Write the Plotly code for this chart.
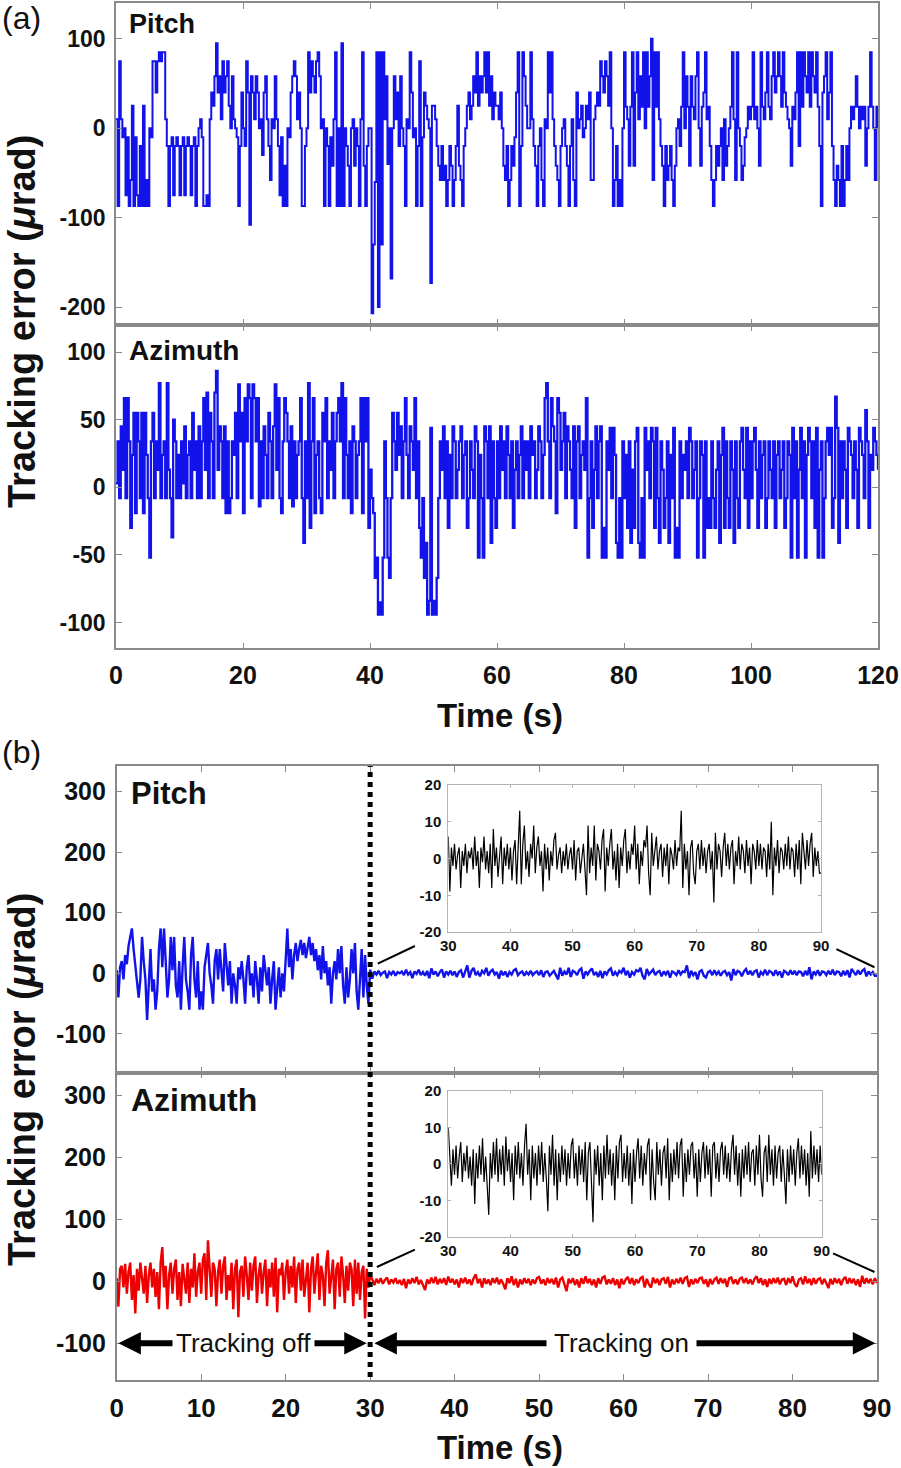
import numpy as np
import plotly.graph_objects as go

W, H = 901, 1468
FONT = "Arial, Liberation Sans, Helvetica, sans-serif"

# ---------------- data ----------------
a_step = 0.25  # seconds between samples in panel (a)
a_pitch = [
    10, -87, 75, 10, -10, 0, -75, -10, -87, -58, 25, -87, -10, -75, -87, -20, -87, 25, -87, -58,
    -87, 0, -10, 75, 75, 40, 75, 85, 75, 85, 85, 10, -20, -87, -20, -10, -75, -20, -10, -20,
    -75, -20, -10, -75, -20, -10, -20, -75, -20, -10, -87, -20, 0, 10, -10, -87, -87, -75, -87, 10,
    40, 25, 58, 95, 40, 58, 10, 75, 40, 58, 75, 25, 0, 58, 10, 0, -10, -87, -20, 40,
    0, -20, 75, 40, -108, 58, 40, 10, 58, 40, 0, 10, -30, 40, 58, 10, -20, -58, 10, 0,
    58, 10, -20, -75, -10, -87, -42, -87, 0, -10, 40, 58, 75, 58, 10, 40, 0, -87, -87, -20,
    0, 85, 40, 75, 58, 40, 75, 85, 58, 0, 10, -87, 0, -20, -87, -10, -42, 10, 85, -87,
    0, -87, 95, -87, 0, -20, -42, -87, 0, 10, -42, 0, -20, -87, 10, 85, -42, -87, -20, 0,
    0, -207, -130, -60, 85, -200, 85, -130, 85, 10, 58, -40, 0, -168, 0, 58, 10, 40, -20, 58,
    0, -20, -87, 10, 0, 85, 40, -10, 0, -87, -20, 75, -87, -10, 40, 25, 10, 0, -173, 25,
    25, 10, -20, -42, -58, -20, -58, -42, -87, -58, -20, -42, -87, -58, -20, 25, -42, -58, -87, -20,
    0, 25, 40, 10, 25, 58, 40, 85, 25, 58, 40, 58, 85, 40, 85, 25, 58, 10, 40, 25,
    25, 10, 40, 0, -42, -58, -20, -87, -58, -20, -42, -10, 40, 85, -87, -20, 85, 58, 25, 0,
    0, 85, 10, -20, -42, -87, -20, 0, -58, -87, 10, 0, 85, 40, 85, 10, -20, -42, -58, -87,
    -20, 0, 10, -20, -42, -87, -20, 10, -58, -87, 40, 0, 10, 25, -10, 0, 25, 10, 40, -58,
    -58, 10, 25, 40, 25, 75, 58, 40, 75, 58, 25, 85, 0, -87, -58, -20, -87, -58, -87, 0,
    85, 24, 10, -42, 24, 85, -42, 40, 85, 10, 58, 24, 85, 0, 85, 24, 58, 100, -58, 85,
    24, 85, 10, -20, -42, -87, -20, -58, -42, -20, -58, -87, -42, 0, 10, -20, 24, 85, 0, 58,
    24, -42, 58, 24, 10, 58, 85, 0, -42, 24, 40, 85, 10, 24, -20, -58, -87, -58, -20, -42,
    -20, 0, -58, 10, -42, -20, 0, 24, 85, 10, -58, 85, 0, -20, -58, -42, -10, 0, 24, 10,
    24, 85, 10, 24, 0, -42, 85, 24, 10, 40, 85, 24, 10, 58, 85, 40, 58, 85, 58, 24,
    85, 40, 24, 10, 0, -42, 24, 10, 40, 85, -20, 85, 24, 85, 58, 40, 85, 24, 85, 58,
    40, 85, 24, -20, -87, 40, 58, 85, 10, 40, 85, -20, -58, -87, -42, -58, -87, -20, -87, -58,
    -20, -58, 0, 24, 10, 24, 58, 24, 0, 24, 10, 24, -42, 0, 24, 85, 24, 0, -58, 24,
    0,
]
a_azimuth = [
    3, 34, -8, 45, 13, 66, -8, 66, 34, -30, 24, 55, -19, 55, 34, -8, 55, -19, 55, 24,
    -8, -52, 34, 55, -8, 34, 13, 77, -8, 24, 34, -8, 77, 13, -8, -37, 50, 34, -8, 24,
    -8, 34, 3, 45, -8, 24, 34, -8, 55, 13, 34, -8, 45, -8, 34, 66, 13, 70, -8, 55,
    34, -8, 70, 86, 13, 45, 34, -8, 45, -19, 34, -19, -8, 34, 24, 55, -8, 76, 34, 55,
    -19, 66, 34, 76, 66, -8, 76, 66, 34, 66, -14, 34, -8, 45, 24, -8, 55, 34, -8, 45,
    76, 13, 66, -8, -19, 34, 66, 55, 34, -8, 45, -14, 34, -8, 24, 34, 66, -8, -41, 34,
    -8, 77, -30, 34, 66, -19, 24, 34, -8, -19, 55, 34, 66, -8, 34, 13, 55, -8, 34, 55,
    66, 34, 77, -8, 66, 24, -8, 34, -19, 45, 34, -8, 24, 34, 66, -19, 66, 34, 66, -30,
    13, -8, -19, -67, -52, -94, -85, -94, -52, 34, -8, -52, -67, -8, 55, 34, 13, 55, 24, 45,
    -8, 34, 66, 24, -8, 45, 34, 13, 66, -8, 34, -30, -52, -8, -67, -41, -94, -84, 44, -94,
    -84, -94, -67, -8, 34, 13, 45, -8, 34, -30, 24, -8, 45, 34, -8, 13, 34, 45, -8, 24,
    34, -30, -8, 34, 13, -8, 45, 34, -52, 24, -8, -52, 45, 34, -8, 45, -41, 34, -8, -30,
    34, -8, 45, 13, 34, -8, 45, 24, -8, 34, -30, 13, 34, -8, 24, 45, -8, 34, 13, 34,
    -8, 45, 24, 34, -8, 13, 45, 34, -8, 24, 66, 77, 34, -8, 66, 45, 34, -19, 66, 55,
    13, 34, 55, -8, 45, 34, 13, -8, 45, -30, 34, 45, -8, 24, 34, 13, 66, -52, -8, 34,
    -30, 13, 45, -8, 34, 45, -52, -30, -52, 34, 13, 44, -8, 44, 24, -41, -52, -8, -52, 34,
    -8, 24, -30, 34, -41, 13, -30, 34, 44, -41, -52, -8, -52, 44, 13, 34, -8, 44, 34, -30,
    44, -8, -41, 34, 13, -30, -8, 34, -41, 24, -8, 44, -52, -30, -52, 34, -8, 24, 13, 34,
    -8, 44, 34, -8, 13, 34, -52, -8, 34, 24, -52, 34, -30, -8, -30, 34, -8, -30, 13, 34,
    -41, 24, 44, -30, 34, -8, -30, 34, 13, -41, 34, -8, -30, 34, 44, 13, -8, 44, -30, 34,
    -8, 34, 44, 13, -30, 34, -8, 24, 34, -30, -8, 34, 13, -8, 34, -30, 24, 34, -8, 13,
    34, -30, -8, 34, 24, -52, 44, -8, 34, -52, 13, 44, -8, 34, -52, 24, 44, 34, -8, 34,
    -30, 44, -52, 13, 34, -52, -8, 34, 44, 24, 44, -30, -8, 67, 44, -41, 34, -8, 34, 13,
    -30, 44, 34, 24, -8, 34, 13, -30, 44, 34, 24, -8, 57, 34, -30, 24, 13, 44, 34, 24,
    13,
]

b_step_off = 0.2   # tracking off, 0-30 s
b_on_start = 30.0
b_step_on = 0.25   # tracking on, 30-90 s
b_pitch_off = [
    5, -40, 10, 20, -10, 30, 15, 45, 60, 74, 40, 10, -20, -40, -10, 60, 20, -10, -77, -20, 40, -30, -10, -60, -30,
    40, 74, 10, 74, 20, -40, -10, 60, 5, 60, -20, -40, 20, -60, 10, 60, -10, -30, -60, 30, 60, -10, -40, 20, -60,
    -30, -60, 10, 30, 50, 0, -20, -50, 20, 40, -10, 40, 10, -30, 50, 5, -20, 20, -50, 0, -20, -50, 10, -10, 20,
    -10, -50, 10, 30, -20, 0, -40, 20, -10, -50, 10, -30, 30, 0, -20, 10, -50, -10, 20, -60, -20, 10, -40, 0, -30,
    20, 74, 10, 40, -10, 30, 50, 20, 40, 55, 30, 50, 25, 45, 60, 30, 50, 20, 40, 5, 30, -10, 45, 0, 20,
    -20, 10, -50, 0, 20, -10, 40, 0, 45, -20, -50, 10, -40, -10, 40, 0, 50, -30, -60, -10, 40, -40, 30, -20, -50,
]
b_azimuth_off = [
    5, -41, 20, 25, -10, 28, -20, 15, 30, -30, 10, -52, 20, -15, 30, 0, -20, 25, -35, 10, 30, -10, 20, -25, 15,
    -45, 30, 55, -10, 25, -45, 10, 30, -20, 20, 35, -30, 15, -40, 28, 5, -20, 30, -35, 20, -10, 45, -25, 15, 30,
    -20, 35, 45, -30, 66, 10, -25, 30, 20, -40, 15, 35, -20, 25, 40, -30, 10, -15, 30, -45, 20, 35, -58, 15, 25,
    -25, 40, 10, -30, 30, -15, 25, 40, -35, 10, 30, -20, 15, 35, -40, 20, -10, 30, -25, 38, -50, 20, 10, 30, -30,
    15, 35, -20, 25, -10, 40, -35, 20, 30, -15, 35, -25, 10, 30, -50, 20, 40, -20, 15, 45, -30, 25, 10, -40, 30,
    50, -20, 15, 35, -45, 20, 30, -25, 40, 10, -35, 25, -15, 30, 20, -40, 35, -20, 30, -30, 15, 25, -60, 20, -10,
]
b_pitch_on = [
    6, -9, 3, -2, 4, -3, 1, 3, -8, 2, -2, 4, -4, 2, 0, 3, -3, 6, -2, 2,
    -8, 3, -1, 6, -3, 2, -4, 4, -8, 8, -2, 3, -5, 2, 6, -7, 3, -2, 4, -3,
    3, -6, 2, 5, -7, 3, 13, -7, 4, 9, -3, 2, -5, 4, 0, 9, -4, 3, 6, -2,
    2, -9, 4, -3, 3, -6, 2, -2, 5, 7, -3, 1, 3, -4, 2, -2, 4, -3, 1, 3,
    -3, 5, -6, 2, 3, -4, 1, 4, -3, -10, 9, -4, 3, -2, 9, -6, 4, 2, -3, 5,
    8, -9, 3, -2, 4, 8, -3, 2, -6, 4, -8, 3, -2, 5, 8, -4, 2, -3, 4, 1,
    9, -3, 4, -7, 2, -2, 5, 3, 9, -4, -10, 7, -2, 3, 6, -3, 2, 4, -5, 3,
    -2, 4, -7, 3, 1, -3, 5, -2, 3, 2, 13, -8, 4, -3, 2, -10, 3, 5, -4, -7,
    2, 4, -3, 5, -2, 3, -4, 2, 4, -3, 2, -12, 7, -3, 4, 2, -5, 3, 7, -2,
    4, -3, 3, 5, -7, 2, -2, 6, -3, 4, 2, -4, 5, -2, 3, -7, 4, 2, -3, 5,
    -2, 4, -3, 3, 2, -5, 4, -3, 10, -10, 3, -2, 5, -4, 3, 2, -3, 4, -2, 6,
    -3, 3, 2, -5, 4, -3, 5, -7, 7, 2, -3, 5, -2, 4, 7, -5, 3, -2, 2, -4,
    -4,
]
b_azimuth_on = [
    10, 3, -6, 4, -3, 5, -4, 2, 6, -5, 3, -2, 5, -4, 2, -6, 4, -11, 3, -4,
    5, -3, 7, -5, 2, -6, -14, 3, -4, 6, -3, 7, -5, 4, -3, 5, -6, 7.5, -2, 4,
    -5, 3, -10, 5, -3, 6, -4, 3, -6, 5, 11, -3, 4, -10, 5, -4, 3, -6, 5, -3,
    6, -5, 3, -4, -13, 5, -3, 8, -6, 4, -10, 3, -5, 5, -3, 4, -6, 3, -4, 5,
    7, -4, 3, -6, 5, -3, 4, -5, 6, -10, 3, 6, -5, -16, 4, -3, 5, -6, 3, -10,
    5, -4, 8, -3, 4, -6, 3, -10, 5, -4, 6, 8, -5, 3, -4, 5, -6, 3, -11, 4,
    -5, 3, 7, -4, 5, -6, 3, -3, 5, 7, -10, 4, -5, -10, 6, -3, 4, -6, 3, 5,
    -4, 7, -10, 3, -5, 4, -3, 6, -4, 5, 7, -9, 3, -5, 4, -3, 5, 6, -4, 3,
    -9, 4, -5, 3, 6, -4, 5, -3, 4, -9, 5, 6, -4, 3, -5, 4, 6, -3, 5, -4,
    3, -5, 4, 8, -3, 5, -6, 3, -9, 4, -4, 5, -3, 6, -5, 3, 4, -6, 5, -3,
    8, -4, -9, 3, 5, -5, 8, -3, 4, -6, 5, -4, 3, 5, -5, 4, -3, -11, 4, -5,
    5, -3, 4, -6, 3, 7, -4, 5, -3, 4, -6, 3, -9, 9, -4, 5, -3, 4, -5, 5,
    -3,
]

a_xticks = [0, 20, 40, 60, 80, 100, 120]
a_pitch_yticks = [-200, -100, 0, 100]
a_az_yticks = [-100, -50, 0, 50, 100]
b_xticks = [0, 10, 20, 30, 40, 50, 60, 70, 80, 90]
b_yticks = [-100, 0, 100, 200, 300]
inset_xticks = [30, 40, 50, 60, 70, 80, 90]
inset_yticks = [-20, -10, 0, 10, 20]

# ---------------- helpers ----------------
def px(x):
    return x / W

def py(y):
    return 1 - y / H

BLUE = "rgb(18,18,235)"
RED = "rgb(238,0,0)"
GREY = "#8a8a8a"
LGREY = "#b4b4b4"
TXT = "#111111"

t_a = np.arange(len(a_pitch)) * a_step
t_off = np.arange(len(b_pitch_off)) * b_step_off
t_on = b_on_start + np.arange(len(b_pitch_on)) * b_step_on
t_b = np.concatenate([t_off, t_on])
pitch_b = list(b_pitch_off) + list(b_pitch_on)
az_b = list(b_azimuth_off) + list(b_azimuth_on)

fig = go.Figure()
fig.add_trace(go.Scatter(x=t_a, y=a_pitch, mode="lines", xaxis="x", yaxis="y",
                         line=dict(color=BLUE, width=2.0, shape="hv"), showlegend=False))
fig.add_trace(go.Scatter(x=t_a, y=a_azimuth, mode="lines", xaxis="x2", yaxis="y2",
                         line=dict(color=BLUE, width=2.3, shape="hv"), showlegend=False))
fig.add_trace(go.Scatter(x=t_b, y=pitch_b, mode="lines", xaxis="x3", yaxis="y3",
                         line=dict(color=BLUE, width=2.4), showlegend=False))
fig.add_trace(go.Scatter(x=t_b, y=az_b, mode="lines", xaxis="x4", yaxis="y4",
                         line=dict(color=RED, width=2.4), showlegend=False))
fig.add_trace(go.Scatter(x=t_on, y=b_pitch_on, mode="lines", xaxis="x5", yaxis="y5",
                         line=dict(color="black", width=1.2), showlegend=False))
fig.add_trace(go.Scatter(x=t_on, y=b_azimuth_on, mode="lines", xaxis="x6", yaxis="y6",
                         line=dict(color="black", width=1.2), showlegend=False))


def axis(size, ticks_list, labels=True, color=GREY, ticklen=6, **kw):
    d = dict(showline=True, linecolor=color, linewidth=1.5, mirror="ticks",
             ticks="inside", ticklen=ticklen, tickwidth=1.2, tickcolor=color,
             showgrid=False, zeroline=False, showticklabels=labels, automargin=False,
             tickmode="array", tickvals=ticks_list, ticktext=[str(v) for v in ticks_list],
             tickfont=dict(family=FONT, size=size, color=TXT, weight="bold"),
             fixedrange=True)
    d.update(kw)
    return d


xa = [px(116), px(878)]
xb = [px(116.7), px(877)]
fig.update_layout(
    width=W, height=H, autosize=False,
    margin=dict(l=0, r=0, t=0, b=0, pad=0),
    paper_bgcolor="white", plot_bgcolor="white",
    xaxis=axis(25, a_xticks, labels=False, domain=xa, range=[0, 120], anchor="y"),
    yaxis=axis(23, a_pitch_yticks, domain=[py(325), py(3)], range=[-220, 140], anchor="x",
               ticklabelstandoff=4),
    xaxis2=axis(25, a_xticks, domain=xa, range=[0, 120], anchor="y2", ticklabelstandoff=4),
    yaxis2=axis(23, a_az_yticks, domain=[py(648.3), py(325)], range=[-119, 120], anchor="x2",
                ticklabelstandoff=4),
    xaxis3=axis(26, b_xticks, labels=False, domain=xb, range=[0, 90], anchor="y3"),
    yaxis3=axis(25, b_yticks, domain=[py(1072.7), py(766)], range=[-164, 342], anchor="x3",
                ticklabelstandoff=4),
    xaxis4=axis(26, b_xticks, domain=xb, range=[0, 90], anchor="y4", ticklabelstandoff=4),
    yaxis4=axis(25, b_yticks, domain=[py(1380), py(1072.7)], range=[-159, 336], anchor="x4",
                ticklabelstandoff=4),
    xaxis5=axis(15, inset_xticks, color=LGREY, ticklen=3, domain=[px(448.3), px(821)],
                range=[30, 90], anchor="y5", linewidth=1),
    yaxis5=axis(15, inset_yticks, color=LGREY, ticklen=3, domain=[py(932), py(785)],
                range=[-20, 20], anchor="x5", linewidth=1, ticklabelstandoff=3),
    xaxis6=axis(15, inset_xticks, color=LGREY, ticklen=3, domain=[px(448.3), px(821.7)],
                range=[30, 90], anchor="y6", linewidth=1),
    yaxis6=axis(15, inset_yticks, color=LGREY, ticklen=3, domain=[py(1236.7), py(1091)],
                range=[-20, 20], anchor="x6", linewidth=1, ticklabelstandoff=3),
)

shapes = [
    # tracking switch-on marker
    dict(type="line", xref="x4", yref="paper", x0=30, x1=30, y0=py(1377), y1=py(766),
         line=dict(color="black", width=5, dash="dot"), layer="above"),
    # inset connector lines
    dict(type="line", xref="x3", yref="y3", x0=30.9, y0=16, x1=35.3, y1=45,
         line=dict(color="black", width=2)),
    dict(type="line", xref="x3", yref="y3", x0=85.2, y0=40, x1=89.7, y1=10,
         line=dict(color="black", width=2)),
    dict(type="line", xref="x4", yref="y4", x0=30.8, y0=23, x1=35.3, y1=51,
         line=dict(color="black", width=2)),
    dict(type="line", xref="x4", yref="y4", x0=84.8, y0=45, x1=89.7, y1=15,
         line=dict(color="black", width=2)),
]
fig.update_layout(shapes=shapes)


def label(text, x, y, size, bold=True, xanchor="left", angle=0):
    return dict(text=text, x=px(x), y=py(y), xref="paper", yref="paper",
                xanchor=xanchor, yanchor="middle", showarrow=False, textangle=angle,
                font=dict(family=FONT, size=size, color=TXT,
                          weight="bold" if bold else "normal"))


ann = [
    label("(a)", 0, 18, 32, bold=False),
    label("(b)", 0, 752, 32, bold=False),
    label("Pitch", 127, 24, 27),
    label("Azimuth", 127, 350, 28),
    label("Pitch", 129, 793, 31),
    label("Azimuth", 129, 1100, 32),
    label("Tracking error (<i>μ</i>rad)", 22, 322, 38, xanchor="center", angle=-90),
    label("Tracking error (<i>μ</i>rad)", 22, 1080, 38, xanchor="center", angle=-90),
    label("Time (s)", 500, 715, 33, xanchor="center"),
    label("Time (s)", 500, 1447, 33, xanchor="center"),
]

# double-headed arrows for "Tracking off" / "Tracking on"
for head, tail in [(0.2, 15.0), (29.6, 15.0), (30.5, 59.8), (89.8, 59.8)]:
    ann.append(dict(x=head, y=-100, ax=tail, ay=-100, xref="x4", yref="y4",
                    axref="x4", ayref="y4", text="", showarrow=True,
                    arrowhead=2, arrowsize=0.75, arrowwidth=6, arrowcolor="black",
                    standoff=0, startstandoff=0))
for txt, tc, pad in [("Tracking off", 15.0, 3), ("Tracking on", 59.8, 7)]:
    ann.append(dict(x=tc, y=-100, xref="x4", yref="y4", text=txt, showarrow=False,
                    bgcolor="white", borderpad=pad, xanchor="center", yanchor="middle",
                    font=dict(family=FONT, size=26, color=TXT)))
fig.update_layout(annotations=ann)

fig.write_html("out.html", config={"displayModeBar": False},
               post_script="document.body.style.margin='0';document.body.style.overflow='hidden';")
